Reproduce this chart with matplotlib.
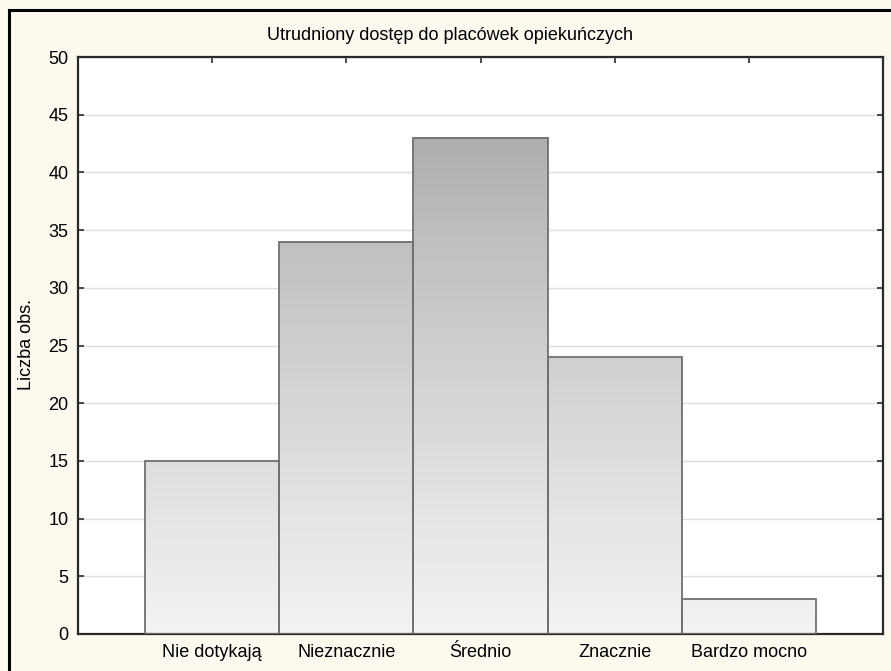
import numpy as np
from matplotlib import pyplot as plt
from matplotlib.colors import LinearSegmentedColormap, Normalize
from matplotlib.patches import Rectangle

plt.rcParams["font.family"] = ["Liberation Sans", "DejaVu Sans"]

categories = ["Nie dotykają", "Nieznacznie", "Średnio", "Znacznie", "Bardzo mocno"]
counts = [15, 34, 43, 24, 3]
title = "Utrudniony dostęp do placówek opiekuńczych"
ylabel = "Liczba obs."
yticks = list(range(0, 55, 5))

bg = "#FDF9EF"
shade = LinearSegmentedColormap.from_list(
    "shade",
    [(0.0, "#F3F3F3"), (0.3, "#DEDEDE"), (0.68, "#C0C0C0"), (0.86, "#AEAEAE"), (1.0, "#A2A2A2")],
)
norm = Normalize(0, 50)

fig = plt.figure(figsize=(8.91, 6.71), dpi=100, facecolor=bg)
ax = fig.add_axes([78 / 891, 37 / 671, (883 - 78) / 891, (634 - 57) / 671])
ax.set_facecolor("white")

# frame around the whole chart (cut at right and bottom like the original)
fig.patches.append(
    Rectangle((9 / 891, -0.1), 1.2, 1 - 10 / 671 + 0.1, transform=fig.transFigure,
              fill=False, edgecolor="black", linewidth=2.2, zorder=10)
)

x = np.arange(len(categories))
for xi, h in zip(x, counts):
    grad = np.linspace(h, 0, 200).reshape(-1, 1)
    ax.imshow(grad, cmap=shade, norm=norm, aspect="auto",
              extent=(xi - 0.5, xi + 0.5, 0, h), zorder=2, interpolation="bilinear")
ax.bar(x, counts, width=1.0, facecolor="none", edgecolor="#707070", linewidth=1.3, zorder=3)

ax.set_xlim(-1, len(categories))
ax.set_ylim(0, 50)
ax.set_yticks(yticks)
ax.set_xticks(x)
ax.set_xticklabels(categories)
ax.grid(axis="y", color="#DEDEDE", linewidth=1.0, zorder=0)
ax.set_axisbelow(True)

ax.tick_params(direction="in", length=4, width=1.2, color="#2A2A2A",
               top=True, right=True, labelsize=13, pad=7)
for s in ax.spines.values():
    s.set_color("#2A2A2A")
    s.set_linewidth(1.6)

fig.text(450 / 891, 1 - 35 / 671, title, ha="center", va="center", fontsize=13)
fig.text(27 / 891, 1 - 345 / 671, ylabel, ha="center", va="center", rotation=90, fontsize=13)

fig.savefig("out.png", dpi=100, facecolor=bg)
